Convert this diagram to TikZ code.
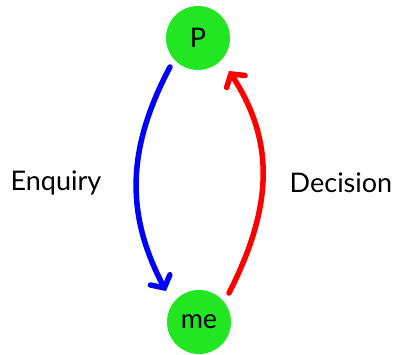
\documentclass[tikz,border=0pt]{standalone}
\usepackage{fontspec}
\setmainfont{Lato}
\usetikzlibrary{arrows.meta}
\definecolor{nodegreen}{RGB}{34,230,34}
\begin{document}
\begin{tikzpicture}[x=1pt,y=1pt,
  vertex/.style={circle,fill=nodegreen,minimum size=64pt,inner sep=0pt,font=\fontsize{27}{32}\selectfont},
  lbl/.style={font=\fontsize{27}{32}\selectfont},
  flow/.style={line width=5.5pt,line cap=round,-{Straight Barb[length=9pt,width=22pt,line cap=round]}}]
\useasboundingbox (0,0) rectangle (396,355);
\node[vertex] (P) at (198,317) {P};
\node[vertex] (me) at (199,33) {me};
\node[lbl] (enq) at (56,172) {Enquiry};
\node[lbl] (dec) at (341,172) {Decision};
\coordinate (b0) at (170,288);
\coordinate (b1) at (166,64);
\coordinate (r0) at (229,62);
\coordinate (r1) at (229,284);
\draw[flow,blue] (b0) .. controls (126,205) and (126,140) .. (b1);
\draw[flow,red] (r0) .. controls (274,150) and (274,215) .. (r1);
\end{tikzpicture}
\end{document}
